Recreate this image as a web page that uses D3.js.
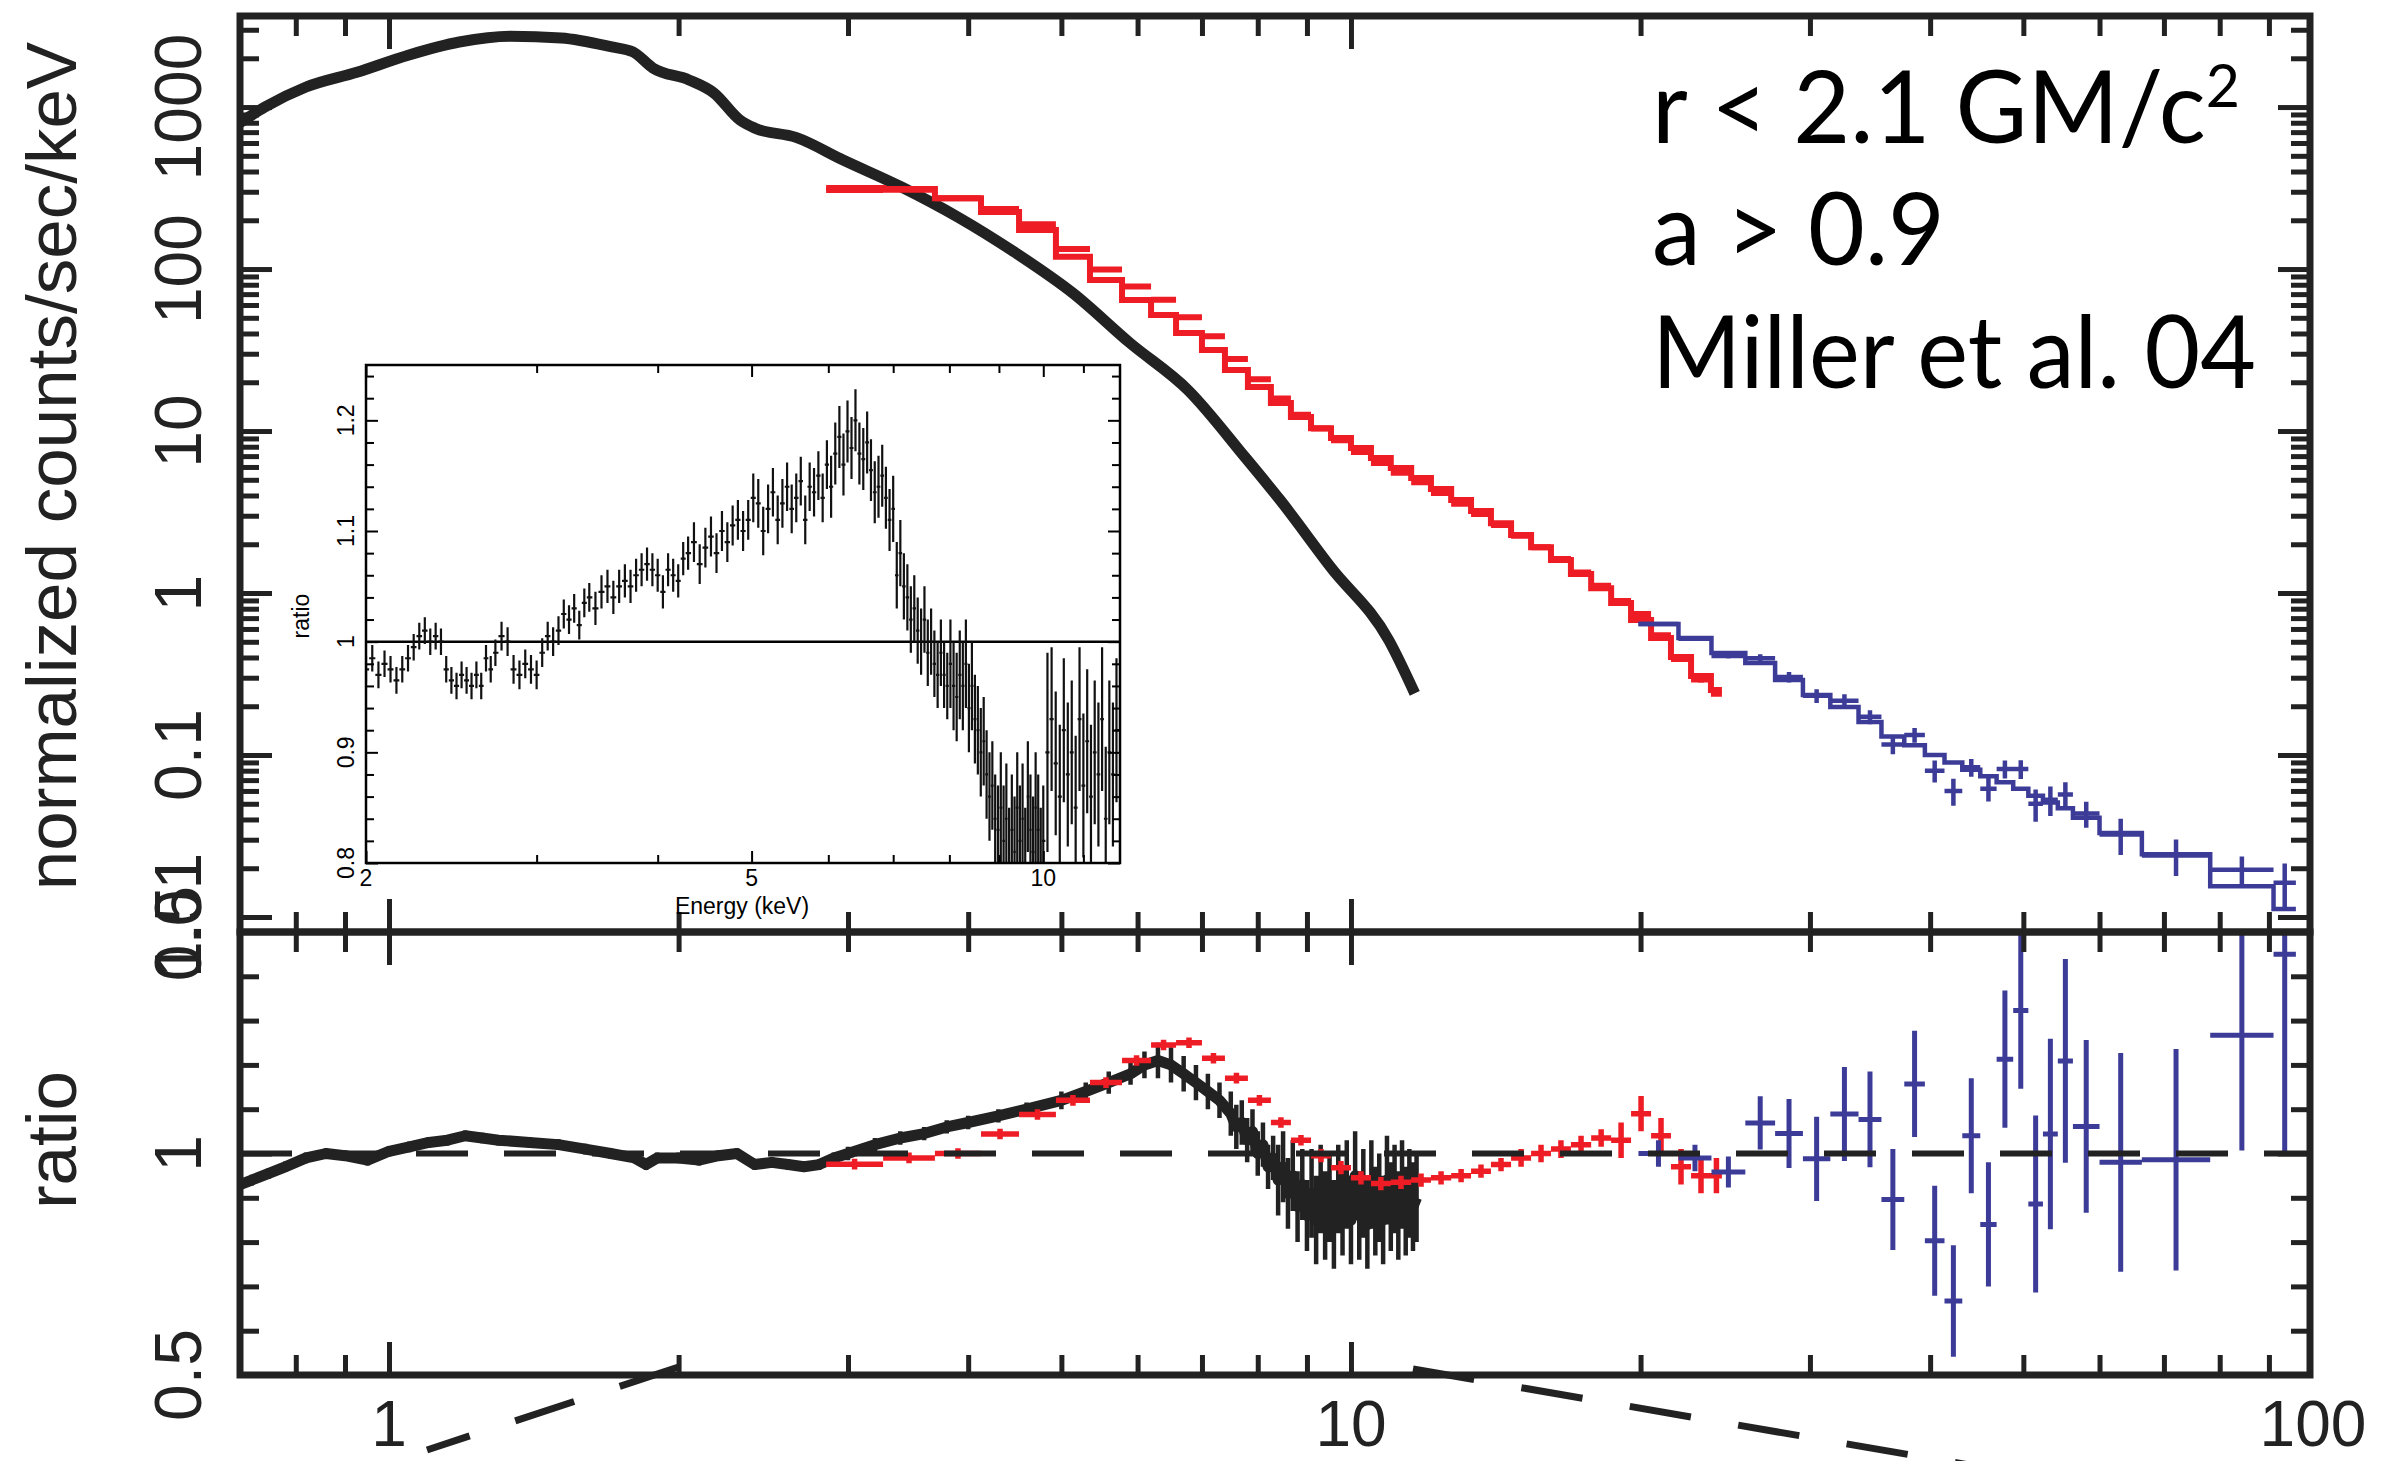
<!doctype html>
<html lang="en">
<head>
  <meta charset="utf-8">
  <title>Spectrum and ratio</title>
  <script src="https://cdnjs.cloudflare.com/ajax/libs/d3/7.8.5/d3.min.js"></script>
  <style>
    body { margin:0; background:#fff; }
    text { font-family:"Liberation Sans", Arial, sans-serif; fill:#222; }
    .note { font-family:Lato, "Open Sans", sans-serif; fill:#000; }
  </style>
</head>
<body>
<div id="chart"></div>
<script>
// ---- data ----
// black: continuous counts (keV, counts/s/keV)
var blackEnergy = [0.70,0.743,0.82,0.926,1.047,1.183,1.336,1.51,1.705,1.793,1.881,2.05,2.177,2.317,2.402,2.649,2.965,3.41,3.905,4.48,5.14,5.89,6.77,7.76,8.44,9.53,10.95,11.65];
var blackCounts = [800,1000,1330,1640,2090,2520,2740,2670,2350,2190,1740,1470,1220,830,740,650,471,321,209,126,71,35,17.9,6.9,3.75,1.44,0.51,0.24];

// black: ratio panel
var blackRatioE = [0.70,0.72,0.75,0.78,0.82,0.86,0.90,0.95,1.0,1.05,1.1,1.15,1.2,1.25,1.3,1.4,1.5,1.6,1.7,1.8,1.85,1.9,2.0,2.1,2.2,2.3,2.4,2.5,2.6,2.7,2.8,2.9,
  3.0,3.2,3.4,3.6,3.8,4.0,4.3,4.6,5.0,5.3,5.6,5.9,6.1,6.3,6.5,6.7,6.9,7.1,7.3,
  7.5,7.6,7.7,7.8,7.9,8.0,8.1,8.2,8.3,8.4,8.5,8.6,8.7,8.8,8.9,9.0,9.1,9.2,9.3,9.4,9.5,9.6,9.7,9.8,9.9,10.0,
  10.1,10.2,10.3,10.4,10.5,10.6,10.7,10.8,10.9,11.0,11.1,11.2,11.3,11.4,11.5,11.6,11.7];
var blackRatio = [0.93,0.94,0.955,0.97,0.99,1.0,0.995,0.985,1.005,1.015,1.025,1.03,1.04,1.035,1.03,1.025,1.02,1.01,1.0,0.99,0.975,0.99,0.99,0.985,0.995,1.0,0.975,0.98,0.975,0.97,0.975,0.99,
  1.0,1.02,1.035,1.045,1.06,1.07,1.085,1.1,1.12,1.14,1.16,1.18,1.2,1.21,1.2,1.18,1.16,1.14,1.12,
  1.09,1.06,1.07,1.03,1.05,1.0,1.02,0.97,0.99,0.94,0.97,0.91,0.95,0.88,0.93,0.86,0.91,0.85,0.92,0.86,0.9,0.84,0.92,0.87,0.93,0.85,
  0.95,0.86,0.91,0.84,0.93,0.87,0.9,0.85,0.94,0.88,0.92,0.86,0.93,0.87,0.91,0.88,0.9];
var blackRatioErr = [0.012,0.012,0.012,0.012,0.012,0.012,0.012,0.012,0.012,0.012,0.012,0.012,0.012,0.012,0.012,0.012,0.012,0.012,0.012,0.012,0.012,0.012,0.012,0.012,0.012,0.012,0.012,0.012,0.012,0.012,0.012,0.012,
  0.015,0.015,0.015,0.015,0.015,0.015,0.015,0.015,0.02,0.02,0.025,0.025,0.03,0.04,0.04,0.04,0.04,0.04,0.04,
  0.05,0.05,0.05,0.05,0.05,0.05,0.05,0.05,0.05,0.08,0.08,0.08,0.08,0.08,0.08,0.08,
  0.1,0.1,0.1,0.1,0.1,0.1,0.1,0.1,0.1,0.1,0.1,0.1,0.1,0.1,0.1,0.1,0.1,0.1,0.1,0.1,0.1,0.1,0.1,0.1,0.1,0.1,0.1];

// red: binned (bin edges in keV, model, data, ratio, ratio error)
var redEdges = [2.847,3.263,3.694,4.125,4.518,4.935,5.354,5.781,6.197,6.579,7.0,7.396,7.814,8.256,8.661,9.088,9.533,10.0,10.49,11.0,11.55,12.11,12.71,13.33,13.98,14.67,15.39,16.14,16.93,17.77,18.64,19.55,20.51,21.51,22.57,23.67,24.3];
var redModel = [316,312,274,225,174,119,85.5,64.4,52,40.3,31.6,23.8,18.7,14.9,12.2,10.4,9.05,7.86,6.81,5.91,5.13,4.39,3.75,3.21,2.70,2.28,1.92,1.60,1.31,1.07,0.867,0.681,0.527,0.403,0.307,0.252];
var redData = [308,309,274,235,189,133,99.2,77.9,64.7,50.4,38.4,27.8,20.9,15.9,12.6,10.35,8.76,7.43,6.35,5.53,4.82,4.15,3.56,3.08,2.63,2.26,1.92,1.62,1.34,1.11,0.893,0.742,0.548,0.391,0.292,0.239];
var redRatio = [0.976,0.99,1.0,1.044,1.088,1.12,1.16,1.21,1.245,1.25,1.215,1.17,1.12,1.07,1.03,0.995,0.968,0.945,0.932,0.935,0.94,0.945,0.95,0.96,0.975,0.99,1.0,1.01,1.02,1.035,1.03,1.09,1.04,0.97,0.95,0.95];
var redErr = [0.012,0.012,0.012,0.012,0.012,0.012,0.012,0.012,0.012,0.012,0.012,0.012,0.012,0.012,0.012,0.015,0.015,0.015,0.015,0.015,0.015,0.015,0.015,0.015,0.015,0.02,0.02,0.02,0.02,0.02,0.04,0.04,0.04,0.04,0.04,0.04];

// blue: binned
var blueEdges = [19.9,21.9,23.7,25.7,27.6,29.5,31.5,33.7,35.6,37.6,39.5,41.4,43.2,45.1,46.9,48.8,50.6,52.4,54.3,56.3,60.0,66.4,78.2,91.0,96.0];
var blueModel = [0.644,0.527,0.427,0.37,0.29,0.235,0.198,0.16,0.13,0.115,0.10,0.09,0.081,0.074,0.068,0.062,0.056,0.051,0.047,0.041,0.033,0.0244,0.0155,0.0112];
var blueData = [0.644,0.522,0.409,0.396,0.303,0.232,0.216,0.172,0.116,0.133,0.080,0.060,0.084,0.062,0.082,0.082,0.050,0.053,0.057,0.0435,0.0323,0.024,0.0196,0.0163];
var blueRatio = [1.0,0.99,0.958,1.069,1.045,0.988,1.089,1.077,0.896,1.157,0.803,0.667,1.04,0.84,1.213,1.323,0.886,1.044,1.209,1.061,0.98,0.986,1.267,1.45];
var blueErr = [0.03,0.03,0.035,0.06,0.078,0.095,0.106,0.108,0.114,0.12,0.124,0.126,0.13,0.14,0.155,0.177,0.2,0.215,0.23,0.195,0.247,0.25,0.26,0.45];

// inset: ratio 2-12 keV
var insetEnergy = [2.00,2.03,2.06,2.09,2.12,2.15,2.18,2.21,2.24,2.27,2.30,2.33,2.36,2.39,2.42,2.45,2.48,2.51,2.54,2.57,2.60,2.63,2.66,2.69,2.72,
  2.76,2.80,2.84,2.88,2.92,2.96,3.00,3.04,3.08,3.12,3.16,3.20,3.24,3.28,3.32,3.36,3.40,
  3.45,3.50,3.55,3.60,3.65,3.70,3.75,3.80,3.85,3.90,3.95,4.00,4.05,4.10,4.15,4.20,4.25,4.30,
  4.36,4.42,4.48,4.54,4.60,4.66,4.72,4.78,4.84,4.90,4.96,5.02,5.08,5.14,5.20,5.26,5.32,5.38,5.44,5.50,5.56,5.62,5.68,5.74,5.80,5.86,5.92,5.98,
  6.04,6.10,6.16,6.22,6.28,6.34,6.40,6.46,6.52,6.58,6.64,6.70,6.76,6.82,6.88,6.94,
  7.00,7.06,7.12,7.18,7.24,7.30,7.36,7.42,7.48,7.54,7.60,7.66,7.72,7.78,7.84,7.90,7.96,
  8.02,8.08,8.14,8.20,8.26,8.32,8.38,8.44,8.50,8.56,8.62,8.68,8.74,8.80,8.86,8.92,8.98,
  9.04,9.10,9.16,9.22,9.28,9.34,9.40,9.46,9.52,9.58,9.64,9.70,9.76,9.82,9.88,9.94,10.0,
  10.1,10.2,10.3,10.4,10.5,10.6,10.7,10.8,10.9,11.0,11.1,11.2,11.3,11.4,11.5,11.6,11.7,11.8,11.9];
var insetRatio = [0.975,0.985,0.97,0.98,0.975,0.965,0.975,0.985,0.995,1.005,1.01,1.0,1.005,1.0,0.975,0.965,0.96,0.97,0.965,0.96,0.97,0.96,0.985,0.975,0.99,
  1.005,1.0,0.975,0.97,0.98,0.975,0.97,0.99,1.005,1.0,1.01,1.025,1.02,1.03,1.015,1.035,1.04,
  1.03,1.045,1.05,1.04,1.05,1.055,1.05,1.06,1.065,1.07,1.065,1.06,1.045,1.065,1.06,1.055,1.075,1.08,
  1.09,1.07,1.085,1.095,1.08,1.1,1.09,1.105,1.11,1.1,1.11,1.13,1.125,1.1,1.12,1.135,1.11,1.125,1.14,1.12,1.13,1.145,1.11,1.14,1.135,1.15,1.13,1.16,
  1.14,1.17,1.185,1.16,1.19,1.175,1.2,1.17,1.165,1.18,1.155,1.135,1.14,1.15,1.13,1.11,
  1.12,1.06,1.08,1.05,1.04,1.02,1.03,1.01,1.0,1.02,0.99,1.0,0.98,0.97,0.99,0.97,0.96,
  0.98,0.96,0.95,0.97,0.96,0.98,0.94,0.96,0.93,0.92,0.9,0.91,0.88,0.86,0.87,0.84,0.83,
  0.85,0.82,0.84,0.8,0.83,0.81,0.85,0.82,0.84,0.8,0.86,0.83,0.81,0.85,0.83,0.8,0.82,
  0.9,0.93,0.89,0.86,0.92,0.88,0.9,0.85,0.93,0.87,0.91,0.86,0.9,0.88,0.93,0.84,0.9,0.88,0.92];
var insetErr = [0.012,0.012,0.012,0.012,0.012,0.012,0.012,0.012,0.012,0.012,0.012,0.012,0.012,0.012,0.012,0.012,0.012,0.012,0.012,0.012,0.012,0.012,0.012,0.012,0.012,
  0.013,0.013,0.013,0.013,0.013,0.013,0.013,0.013,0.013,0.013,0.013,0.013,0.013,0.013,0.013,0.013,0.013,
  0.015,0.015,0.015,0.015,0.015,0.015,0.015,0.015,0.015,0.015,0.015,0.015,0.015,0.015,0.015,0.015,0.015,0.015,
  0.018,0.018,0.018,0.018,0.018,0.018,0.018,0.018,0.018,0.018,0.018,0.022,0.022,0.022,0.022,0.022,0.022,0.022,0.022,0.022,0.022,0.022,0.022,0.022,0.022,0.022,0.022,0.022,
  0.028,0.028,0.028,0.028,0.028,0.028,0.028,0.028,0.028,0.028,0.028,0.028,0.028,0.028,0.028,0.028,
  0.03,0.03,0.03,0.03,0.03,0.03,0.03,0.03,0.03,0.03,0.03,0.03,0.03,0.03,0.03,0.03,0.03,
  0.04,0.04,0.04,0.04,0.04,0.04,0.04,0.04,0.04,0.04,0.04,0.04,0.04,0.04,0.04,0.04,0.04,
  0.05,0.05,0.05,0.05,0.05,0.05,0.05,0.05,0.05,0.05,0.05,0.05,0.05,0.05,0.05,0.05,0.05,
  0.09,0.065,0.065,0.065,0.065,0.065,0.065,0.065,0.065,0.065,0.065,0.065,0.065,0.065,0.065,0.065,0.065,0.065,0.065];

// ticks and labels
var xMajor = [1, 10];
var xMinor = [0.8,0.9,2,3,4,5,6,7,8,9,20,30,40,50,60,70,80,90];
var xLabels = ["1","10","100"];
var xLabelValues = [1,10,100];
var countMajor = [0.01,0.1,1,10,100,1000];
var countLabels = ["0.01","0.1","1","10","100","1000"];
var ratioMajor = [0.5,1,1.5];
var ratioMinor = [0.6,0.7,0.8,0.9,1.1,1.2,1.3,1.4];
var ratioLabels = ["0.5","1","1.5"];
var insetXMajor = [2,5,10];
var insetXMinor = [3,4,6,7,8,9,11];
var insetXLabels = ["2","5","10"];
var insetYMajor = [0.8,0.9,1,1.1,1.2];
var insetYLabels = ["0.8","0.9","1","1.1","1.2"];
var noteLines = ["r < 2.1 GM/c", "a > 0.9", "Miller et al. 04"];
var noteSup = "2";

// ---- layout ----
var W = 2394, H = 1461;
var L = 240, R = 2310, T = 16, M = 932, B = 1375;
var ink = "#222", red = "#ee1d25", blue = "#3c3c98";

var x = d3.scaleLog().domain([0.7, 99.3]).range([L, R]);
var yTop = d3.scaleLog().domain([0.00808, 3648]).range([M, T]);
var yBot = d3.scaleLinear().domain([0.5, 1.5]).range([B, M]);

var IL = 366, IR = 1120, IT = 365, IB = 863;
var xi = d3.scaleLog().domain([2, 12]).range([IL, IR]);
var yi = d3.scaleLinear().domain([0.8, 1.25]).range([IB, IT]);

var svg = d3.select("#chart").append("svg").attr("width", W).attr("height", H);
svg.append("rect").attr("width", W).attr("height", H).attr("fill", "#fff");

var defs = svg.append("defs");
defs.append("clipPath").attr("id", "cTop").append("rect").attr("x", L).attr("y", T).attr("width", R - L).attr("height", M - T);
defs.append("clipPath").attr("id", "cBot").append("rect").attr("x", L).attr("y", M).attr("width", R - L).attr("height", B - M);
defs.append("clipPath").attr("id", "cIn").append("rect").attr("x", IL).attr("y", IT).attr("width", IR - IL).attr("height", IB - IT);

var gTop = svg.append("g").attr("clip-path", "url(#cTop)");
var gBot = svg.append("g").attr("clip-path", "url(#cBot)");

function bins(edges) {
  return d3.range(edges.length - 1).map(function(i) { return { lo: edges[i], hi: edges[i + 1], i: i }; });
}

// crosses on the counts panel
function countCrosses(g, edges, data, ratio, err, color, w) {
  g.append("path")
    .attr("fill", "none").attr("stroke", color).attr("stroke-width", w)
    .attr("d", bins(edges).map(function(b) {
      var v = data[b.i], f = err[b.i] / ratio[b.i];
      var xc = x(Math.sqrt(b.lo * b.hi));
      return "M" + x(b.lo) + "," + yTop(v) + "H" + x(b.hi) +
             "M" + xc + "," + yTop(v * (1 - f)) + "V" + yTop(v * (1 + f));
    }).join(""));
}
function modelStep(g, edges, model, color, w) {
  var pts = bins(edges).map(function(b) { return [b.lo, model[b.i]]; });
  pts.push([edges[edges.length - 1], model[model.length - 1]]);
  g.append("path").attr("fill", "none").attr("stroke", color).attr("stroke-width", w)
    .attr("d", d3.line().x(function(d) { return x(d[0]); }).y(function(d) { return yTop(d[1]); }).curve(d3.curveStepAfter)(pts));
}
function ratioCrosses(g, edges, ratio, err, color, w) {
  g.append("path")
    .attr("fill", "none").attr("stroke", color).attr("stroke-width", w)
    .attr("d", bins(edges).map(function(b) {
      var r = ratio[b.i], e = err[b.i];
      var xc = x(Math.sqrt(b.lo * b.hi));
      return "M" + x(b.lo) + "," + yBot(r) + "H" + x(b.hi) +
             "M" + xc + "," + yBot(r - e) + "V" + yBot(r + e);
    }).join(""));
}

// ---- upper panel ----
gTop.append("path")
  .attr("fill", "none").attr("stroke", ink).attr("stroke-width", 11).attr("stroke-linejoin", "round")
  .attr("d", d3.line().x(function(d, i) { return x(blackEnergy[i]); }).y(function(d) { return yTop(d); })
    .curve(d3.curveMonotoneX)(blackCounts));

modelStep(gTop, redEdges, redModel, red, 6);
countCrosses(gTop, redEdges, redData, redRatio, redErr, red, 6);
modelStep(gTop, blueEdges, blueModel, blue, 4.5);
countCrosses(gTop, blueEdges, blueData, blueRatio, blueErr, blue, 4.5);

// ---- lower panel ----
gBot.append("path")
  .attr("fill", "none").attr("stroke", ink).attr("stroke-width", 4.5)
  .attr("d", blackRatio.map(function(r, i) {
    var xc = x(blackRatioE[i]);
    return "M" + xc + "," + yBot(r - blackRatioErr[i]) + "V" + yBot(r + blackRatioErr[i]);
  }).join(""));
gBot.append("path")
  .attr("fill", "none").attr("stroke", ink).attr("stroke-width", 11).attr("stroke-linejoin", "round")
  .attr("d", d3.line().x(function(d, i) { return x(blackRatioE[i]); }).y(function(d) { return yBot(d); })(blackRatio));

ratioCrosses(gBot, redEdges, redRatio, redErr, red, 5.5);
ratioCrosses(gBot, blueEdges, blueRatio, blueErr, blue, 5);

gBot.append("line")
  .attr("x1", L).attr("x2", R).attr("y1", yBot(1)).attr("y2", yBot(1))
  .attr("stroke", ink).attr("stroke-width", 6).attr("stroke-dasharray", "52,36");

// ---- frames and ticks ----
function tickAxis(axis, tx, ty, values, len) {
  svg.append("g").attr("transform", "translate(" + tx + "," + ty + ")")
    .call(axis.tickValues(values).tickSize(-len).tickFormat(""))
    .call(function(g) { g.select(".domain").remove(); })
    .selectAll("line").attr("stroke", ink).attr("stroke-width", 5);
}
[[d3.axisTop(x), T], [d3.axisBottom(x), M], [d3.axisTop(x), M], [d3.axisBottom(x), B]].forEach(function(a) {
  tickAxis(a[0], 0, a[1], xMajor, 33);
});
[[d3.axisTop(x), T], [d3.axisBottom(x), M], [d3.axisTop(x), M], [d3.axisBottom(x), B]].forEach(function(a) {
  tickAxis(a[0], 0, a[1], xMinor, 20);
});

var countMinor = [];
countMajor.concat([1000]).forEach(function(d) {
  for (var k = 2; k <= 9; k++) { if (d * k < 3648 && countMinor.indexOf(d * k) < 0) countMinor.push(d * k); }
});
tickAxis(d3.axisLeft(yTop), L, 0, countMajor, 32);
tickAxis(d3.axisLeft(yTop), L, 0, countMinor, 19);
tickAxis(d3.axisRight(yTop), R, 0, countMajor, 32);
tickAxis(d3.axisRight(yTop), R, 0, countMinor, 19);
tickAxis(d3.axisLeft(yBot), L, 0, ratioMajor, 32);
tickAxis(d3.axisLeft(yBot), L, 0, ratioMinor, 19);
tickAxis(d3.axisRight(yBot), R, 0, ratioMajor, 32);
tickAxis(d3.axisRight(yBot), R, 0, ratioMinor, 19);

svg.append("rect").attr("x", L).attr("y", T).attr("width", R - L).attr("height", M - T)
  .attr("fill", "none").attr("stroke", ink).attr("stroke-width", 7);
svg.append("rect").attr("x", L).attr("y", M).attr("width", R - L).attr("height", B - M)
  .attr("fill", "none").attr("stroke", ink).attr("stroke-width", 7);

// ---- axis labels ----
countMajor.forEach(function(v, i) {
  svg.append("text").attr("transform", "translate(201," + yTop(v) + ") rotate(-90)")
    .attr("text-anchor", "middle").style("font-size", "66px").text(countLabels[i]);
});
ratioMajor.forEach(function(v, i) {
  svg.append("text").attr("transform", "translate(201," + yBot(v) + ") rotate(-90)")
    .attr("text-anchor", "middle").style("font-size", "66px").text(ratioLabels[i]);
});
xLabelValues.forEach(function(v, i) {
  svg.append("text").attr("x", x(v)).attr("y", 1446)
    .attr("text-anchor", "middle").style("font-size", "64px").text(xLabels[i]);
});
svg.append("text").attr("transform", "translate(76,466) rotate(-90)")
  .attr("text-anchor", "middle").style("font-size", "71px").text("normalized counts/sec/keV");
svg.append("text").attr("transform", "translate(76,1140) rotate(-90)")
  .attr("text-anchor", "middle").style("font-size", "71px").text("ratio");

// dashed guide lines below the axis (2 keV and 12 keV edges of the inset)
svg.append("line").attr("x1", x(2)).attr("y1", B - 8).attr("x2", 427).attr("y2", 1450)
  .attr("stroke", ink).attr("stroke-width", 7).attr("stroke-dasharray", "62,48");
svg.append("line").attr("x1", x(11.6)).attr("y1", B - 6).attr("x2", 1975).attr("y2", 1466)
  .attr("stroke", ink).attr("stroke-width", 7).attr("stroke-dasharray", "62,48");

// ---- inset ----
var gi = svg.append("g");
gi.append("rect").attr("x", IL).attr("y", IT).attr("width", IR - IL).attr("height", IB - IT).attr("fill", "#fff");
var gic = gi.append("g").attr("clip-path", "url(#cIn)");
gic.append("line").attr("x1", IL).attr("x2", IR).attr("y1", yi(1)).attr("y2", yi(1))
  .attr("stroke", "#000").attr("stroke-width", 2.5);
gic.append("path").attr("fill", "none").attr("stroke", "#111").attr("stroke-width", 2.2)
  .attr("d", insetRatio.map(function(r, i) {
    var xc = xi(insetEnergy[i]);
    var xl = i > 0 ? (xi(insetEnergy[i - 1]) + xc) / 2 : xc - 3;
    var xr = i < insetEnergy.length - 1 ? (xi(insetEnergy[i + 1]) + xc) / 2 : xc + 3;
    return "M" + xl + "," + yi(r) + "H" + xr + "M" + xc + "," + yi(r - insetErr[i]) + "V" + yi(r + insetErr[i]);
  }).join(""));

function insetTicks(axis, tx, ty, values, len) {
  gi.append("g").attr("transform", "translate(" + tx + "," + ty + ")")
    .call(axis.tickValues(values).tickSize(-len).tickFormat(""))
    .call(function(g) { g.select(".domain").remove(); })
    .selectAll("line").attr("stroke", "#000").attr("stroke-width", 2);
}
insetTicks(d3.axisBottom(xi), 0, IB, insetXMajor, 12);
insetTicks(d3.axisBottom(xi), 0, IB, insetXMinor, 8);
insetTicks(d3.axisTop(xi), 0, IT, insetXMajor, 12);
insetTicks(d3.axisTop(xi), 0, IT, insetXMinor, 8);
var insetYMinor = d3.range(0.82, 1.25, 0.02).filter(function(v) { return Math.abs(v * 10 - Math.round(v * 10)) > 0.01; });
insetTicks(d3.axisLeft(yi), IL, 0, insetYMajor, 12);
insetTicks(d3.axisLeft(yi), IL, 0, insetYMinor, 8);
insetTicks(d3.axisRight(yi), IR, 0, insetYMajor, 12);
insetTicks(d3.axisRight(yi), IR, 0, insetYMinor, 8);
gi.append("rect").attr("x", IL).attr("y", IT).attr("width", IR - IL).attr("height", IB - IT)
  .attr("fill", "none").attr("stroke", "#000").attr("stroke-width", 2.5);

insetXMajor.forEach(function(v, i) {
  gi.append("text").attr("x", xi(v)).attr("y", 886).attr("text-anchor", "middle")
    .style("font-size", "23px").style("fill", "#000").text(insetXLabels[i]);
});
insetYMajor.forEach(function(v, i) {
  gi.append("text").attr("transform", "translate(354," + yi(v) + ") rotate(-90)")
    .attr("text-anchor", "middle").style("font-size", "23px").style("fill", "#000").text(insetYLabels[i]);
});
gi.append("text").attr("x", 742).attr("y", 914).attr("text-anchor", "middle")
  .style("font-size", "23px").style("fill", "#000").text("Energy (keV)");
gi.append("text").attr("transform", "translate(309,616) rotate(-90)")
  .attr("text-anchor", "middle").style("font-size", "23px").style("fill", "#000").text("ratio");

// ---- annotation ----
var noteY = [143, 265, 388], noteW = [588, 293, 604];
noteLines.forEach(function(s, i) {
  var t = svg.append("text").attr("class", "note").style("font-size", "100px").text(s);
  if (i === 0) t.append("tspan").attr("dy", -36).style("font-size", "60px").text(noteSup);
  var len = t.node().getComputedTextLength();
  t.attr("transform", "translate(1652," + noteY[i] + ") scale(" + (noteW[i] / len) + ",1)");
});
</script>
</body>
</html>
